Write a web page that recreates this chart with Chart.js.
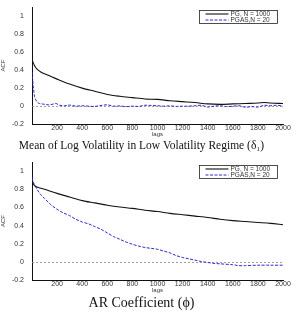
<!DOCTYPE html>
<html>
<head>
<meta charset="utf-8">
<script src="https://cdn.jsdelivr.net/npm/chart.js@4.4.1/dist/chart.umd.min.js"></script>
<style>
  html, body { margin: 0; padding: 0; background: #fff; }
  .wrap { position: relative; width: 296px; }
  canvas { display: block; }
</style>
</head>
<body>
<div class="wrap" style="height:155px"><canvas id="acf-top"></canvas></div>
<div class="wrap" style="height:159px"><canvas id="acf-bottom"></canvas></div>
<script>
'use strict';

// ─── DATA ────────────────────────────────────────────────────────────────────

const seriesLabels = ['PG, N = 1000', 'PGAS,N = 20'];
const yTicks = [-0.2, 0, 0.2, 0.4, 0.6, 0.8, 1];

// top panel: mean of log volatility (low regime)
const topPgLags = [0, 10, 20, 40, 70, 100, 150, 200, 300, 400, 500, 600, 700, 800, 900, 1000, 1100, 1200, 1300, 1400, 1500, 1600, 1700, 1800, 1850, 1900, 2000];
const topPgAcf  = [0.52, 0.48, 0.45, 0.41, 0.38, 0.36, 0.33, 0.30, 0.245, 0.20, 0.165, 0.13, 0.11, 0.095, 0.08, 0.075, 0.06, 0.05, 0.04, 0.025, 0.02, 0.025, 0.03, 0.035, 0.04, 0.035, 0.03];

const topPgasLags = [0, 5, 10, 15, 20, 30, 40, 50, 60, 80, 100, 130, 160, 190, 220, 260, 300, 350, 400, 450, 500, 550, 600, 650, 700, 750, 800, 850, 900, 950, 1000, 1050, 1100, 1150, 1200, 1250, 1300, 1350, 1400, 1450, 1500, 1550, 1600, 1650, 1700, 1750, 1800, 1850, 1900, 1950, 2000];
const topPgasAcf  = [0.38, 0.30, 0.22, 0.16, 0.11, 0.07, 0.05, 0.035, 0.03, 0.025, 0.02, 0.015, 0.02, 0.03, 0.01, 0.005, 0.012, 0.0, 0.005, 0.0, -0.003, 0.008, 0.015, 0.0, 0.003, -0.005, 0.0, -0.003, 0.01, 0.008, 0.005, 0.0, 0.003, -0.003, 0.0, 0.0, 0.005, 0.01, -0.01, 0.0, 0.005, -0.005, 0.0, 0.005, -0.012, -0.005, -0.01, 0.01, 0.005, 0.01, 0.0];

// bottom panel: AR coefficient
const botPgLags = [0, 20, 50, 100, 200, 300, 400, 500, 600, 700, 800, 900, 1000, 1100, 1200, 1300, 1400, 1500, 1600, 1700, 1800, 1900, 2000];
const botPgAcf  = [0.88, 0.84, 0.82, 0.80, 0.755, 0.715, 0.675, 0.65, 0.625, 0.605, 0.59, 0.57, 0.555, 0.535, 0.52, 0.505, 0.49, 0.47, 0.455, 0.445, 0.435, 0.425, 0.41];

const botPgasLags = [0, 10, 20, 40, 70, 100, 150, 200, 250, 300, 350, 400, 450, 500, 550, 600, 650, 700, 750, 800, 850, 900, 950, 1000, 1050, 1100, 1150, 1200, 1250, 1300, 1350, 1400, 1450, 1500, 1600, 1650, 1700, 1800, 1900, 2000];
const botPgasAcf  = [0.93, 0.88, 0.85, 0.80, 0.74, 0.70, 0.63, 0.58, 0.54, 0.51, 0.47, 0.44, 0.42, 0.39, 0.36, 0.32, 0.28, 0.25, 0.22, 0.195, 0.175, 0.16, 0.15, 0.14, 0.12, 0.10, 0.07, 0.05, 0.035, 0.02, 0.005, -0.005, -0.015, -0.02, -0.03, -0.04, -0.04, -0.035, -0.035, -0.035];

// ─── HELPERS ─────────────────────────────────────────────────────────────────

const toPoints = (xs, ys) => xs.map((x, i) => ({ x, y: ys[i] }));

// zero line + boxed legend inside plot area (matlab style)
const matlabExtras = {
  id: 'matlabExtras',
  beforeDatasetsDraw(chart) {
    const { ctx, chartArea: a, scales: { y } } = chart;
    const y0 = Math.round(y.getPixelForValue(0)) + 0.5;
    ctx.save();
    ctx.strokeStyle = '#888';
    ctx.lineWidth = 0.8;
    ctx.setLineDash([2, 2]);
    ctx.beginPath();
    ctx.moveTo(a.left, y0);
    ctx.lineTo(a.right, y0);
    ctx.stroke();
    ctx.restore();
  },
  afterDraw(chart) {
    const { ctx, chartArea: a } = chart;
    const bx = a.left + 167.5, by = a.top + 3.5, bw = 78, bh = 13;
    ctx.save();
    ctx.fillStyle = '#fff';
    ctx.fillRect(bx, by, bw, bh);
    ctx.strokeStyle = '#222';
    ctx.lineWidth = 0.8;
    ctx.strokeRect(bx, by, bw, bh);
    ctx.font = '6.5px "Liberation Sans", Arial, sans-serif';
    ctx.textBaseline = 'middle';
    chart.data.datasets.forEach((ds, i) => {
      const ly = by + 3.5 + i * 6;
      ctx.strokeStyle = ds.borderColor;
      ctx.lineWidth = ds.borderWidth;
      ctx.setLineDash(ds.borderDash || []);
      ctx.beginPath();
      ctx.moveTo(bx + 6, ly);
      ctx.lineTo(bx + 29, ly);
      ctx.stroke();
      ctx.setLineDash([]);
      ctx.fillStyle = '#333';
      ctx.fillText(ds.label, bx + 31, ly + 0.5);
    });
    ctx.restore();
  },
};

function makeChart(id, pg, pgas, title, titleSize) {
  return new Chart(document.getElementById(id), {
    type: 'line',
    data: {
      datasets: [
        {
          label: seriesLabels[0],
          data: pg,
          borderColor: '#111',
          borderWidth: 1.1,
          pointRadius: 0,
          tension: 0.3,
        },
        {
          label: seriesLabels[1],
          data: pgas,
          borderColor: '#2a2ad0',
          borderWidth: 1,
          borderDash: [3, 1.5],
          pointRadius: 0,
          tension: 0.3,
        },
      ],
    },
    options: {
      responsive: true,
      maintainAspectRatio: false,
      animation: false,
      layout: { padding: { top: 7, right: 13, left: 0, bottom: 0 } },
      plugins: {
        legend: { display: false },
        tooltip: { enabled: false },
        title: {
          display: true,
          position: 'bottom',
          text: title,
          color: '#111',
          font: { family: '"Liberation Serif", "Times New Roman", serif', size: titleSize, weight: 'normal' },
          padding: { top: 0, bottom: 2 },
        },
      },
      scales: {
        x: {
          type: 'linear',
          min: 0,
          max: 2000,
          afterFit: s => { s.height = 15; s.paddingLeft = 0; s.paddingRight = 0; },
          grid: { display: false, drawTicks: false },
          border: { color: '#111', width: 1 },
          ticks: {
            stepSize: 200,
            color: '#333',
            padding: 0,
            maxRotation: 0,
            font: { family: '"Liberation Sans", Arial, sans-serif', size: 7 },
            callback: v => (v === 0 ? '' : v),
          },
          title: {
            display: true,
            text: 'lags',
            color: '#333',
            padding: { top: 0, bottom: 1 },
            font: { family: '"Liberation Sans", Arial, sans-serif', size: 6 },
          },
        },
        y: {
          min: -0.2,
          max: 1.1,
          afterFit: s => { s.width = 32; s.paddingTop = 0; s.paddingBottom = 0; },
          afterBuildTicks: s => { s.ticks = yTicks.map(v => ({ value: v })); },
          grid: { display: false, drawTicks: false },
          border: { color: '#111', width: 1 },
          ticks: {
            color: '#333',
            padding: 8,
            font: { family: '"Liberation Sans", Arial, sans-serif', size: 7 },
            callback: v => String(Math.round(v * 10) / 10),
          },
          title: {
            display: true,
            text: 'ACF',
            color: '#333',
            padding: { top: 0, bottom: 0 },
            font: { family: '"Liberation Sans", Arial, sans-serif', size: 6 },
          },
        },
      },
    },
    plugins: [matlabExtras],
  });
}

makeChart('acf-top',
  toPoints(topPgLags, topPgAcf),
  toPoints(topPgasLags, topPgasAcf),
  'Mean of Log Volatility in Low Volatility Regime (δ₁)', 11.5);

makeChart('acf-bottom',
  toPoints(botPgLags, botPgAcf),
  toPoints(botPgasLags, botPgasAcf),
  'AR Coefficient (ϕ)', 14);
</script>
</body>
</html>
